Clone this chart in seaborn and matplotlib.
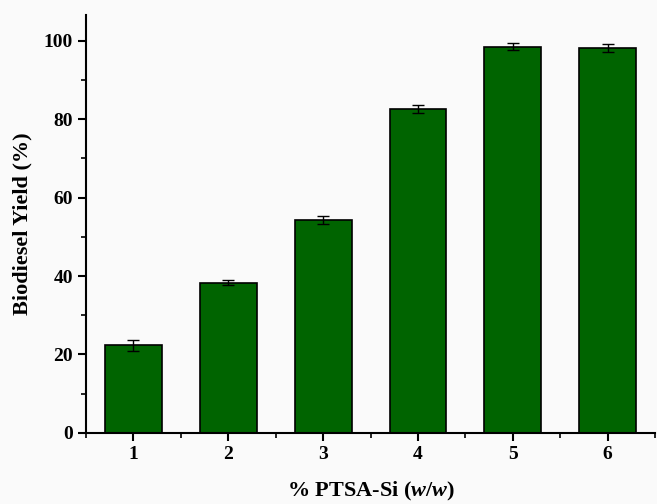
import matplotlib
matplotlib.use('Agg')
import matplotlib.pyplot as plt
import pandas as pd
import seaborn as sns
from matplotlib.ticker import MultipleLocator

# Data
ptsa = [1, 2, 3, 4, 5, 6]
yield_pct = [22.3, 38.3, 54.2, 82.6, 98.5, 98.1]
yield_err = [1.3, 0.7, 1.0, 1.0, 1.0, 1.0]

df = pd.DataFrame({'ptsa': ptsa, 'yield': yield_pct})

sns.set_style('ticks')
plt.rcParams['font.family'] = ['Liberation Serif', 'DejaVu Serif']
plt.rcParams['font.weight'] = 'bold'
plt.rcParams['text.color'] = 'black'
plt.rcParams['axes.labelcolor'] = 'black'
plt.rcParams['xtick.color'] = 'black'
plt.rcParams['ytick.color'] = 'black'
plt.rcParams['mathtext.fontset'] = 'custom'
plt.rcParams['mathtext.rm'] = 'Liberation Serif:bold'
plt.rcParams['mathtext.bf'] = 'Liberation Serif:bold'
plt.rcParams['mathtext.it'] = 'Liberation Serif:italic:bold'
plt.rcParams['mathtext.bfit'] = 'Liberation Serif:italic:bold'

fig = plt.figure(figsize=(6.57, 5.04), dpi=100, facecolor='#fafafa')
ax = fig.add_axes([0.131, 0.141, 0.866, 0.829])
ax.set_facecolor('#fafafa')

sns.barplot(data=df, x='ptsa', y='yield', native_scale=True, width=0.6,
            color='#006400', edgecolor='black', linewidth=1.2, saturation=1,
            errorbar=None, ax=ax)
ax.errorbar(df['ptsa'], df['yield'], yerr=yield_err, fmt='none',
            ecolor='black', elinewidth=1, capsize=4, capthick=1)

ax.set_xlim(0.5, 6.5)
ax.set_ylim(0, 106.5)
ax.set_xticks(ptsa)
ax.set_xticklabels([str(p) for p in ptsa])
ax.yaxis.set_major_locator(MultipleLocator(20))
ax.yaxis.set_minor_locator(MultipleLocator(10))
ax.xaxis.set_minor_locator(MultipleLocator(0.5))
ax.tick_params(axis='both', which='major', direction='out', length=6, width=1.5,
               labelsize=14, colors='black')
ax.tick_params(axis='both', which='minor', direction='out', length=3.5, width=1.2, colors='black')
for lab in ax.get_xticklabels() + ax.get_yticklabels():
    lab.set_fontweight('bold')

sns.despine(ax=ax)
for s in ['left', 'bottom']:
    ax.spines[s].set_linewidth(1.5)
    ax.spines[s].set_color('black')

ax.set_xlabel('% PTSA-Si ($\\mathit{w/w}$)', fontsize=16, fontweight='bold', labelpad=12)
ax.set_ylabel('Biodiesel Yield (%)', fontsize=16, fontweight='bold', labelpad=8)

fig.savefig('out.png', dpi=100, facecolor=fig.get_facecolor())
